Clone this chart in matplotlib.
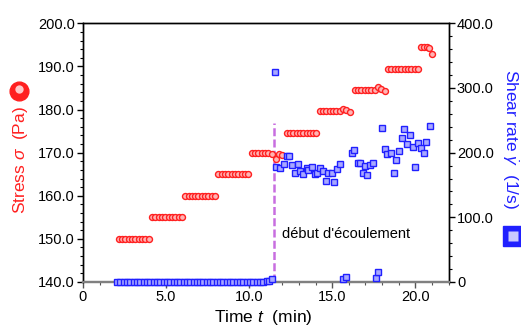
import matplotlib
matplotlib.use('Agg')
import matplotlib.pyplot as plt
from matplotlib.ticker import MultipleLocator, FuncFormatter

# Fonts
plt.rcParams['font.family'] = ['Liberation Sans', 'DejaVu Sans']
plt.rcParams['mathtext.fontset'] = 'custom'
plt.rcParams['mathtext.rm'] = 'Liberation Sans'
plt.rcParams['mathtext.it'] = 'Liberation Sans:italic'

# Stress (Pa) vs time (min)
stress_time = [
    2.15, 2.35, 2.55, 2.75, 2.95, 3.15, 3.35, 3.55, 3.75, 3.95,
    4.15, 4.35, 4.55, 4.75, 4.95, 5.15, 5.35, 5.55, 5.75, 5.95,
    6.15, 6.35, 6.55, 6.75, 6.95, 7.15, 7.35, 7.55, 7.75, 7.95,
    8.15, 8.35, 8.55, 8.75, 8.95, 9.15, 9.35, 9.55, 9.75, 9.95,
    10.15, 10.35, 10.55, 10.75, 10.95, 11.15, 11.35, 11.6, 11.8, 12.0,
    12.25, 12.45, 12.65, 12.85, 13.05, 13.25, 13.45, 13.65, 13.85, 14.05,
    14.25, 14.45, 14.65, 14.85, 15.05, 15.25, 15.45, 15.65, 15.85, 16.05,
    16.35, 16.55, 16.75, 16.95, 17.15, 17.35, 17.55, 17.75, 17.95, 18.15,
    18.35, 18.55, 18.75, 18.95, 19.15, 19.35, 19.55, 19.75, 19.95, 20.15,
    20.35, 20.55, 20.7, 20.85, 21.0,
]
stress = [
    150.0, 150.0, 150.0, 150.0, 150.0, 150.0, 150.0, 150.0, 150.0, 150.0,
    155.0, 155.0, 155.0, 155.0, 155.0, 155.0, 155.0, 155.0, 155.0, 155.0,
    160.0, 160.0, 160.0, 160.0, 160.0, 160.0, 160.0, 160.0, 160.0, 160.0,
    165.0, 165.0, 165.0, 165.0, 165.0, 165.0, 165.0, 165.0, 165.0, 165.0,
    170.0, 170.0, 170.0, 170.0, 170.0, 170.0, 169.8, 168.5, 169.7, 169.5,
    174.6, 174.6, 174.6, 174.6, 174.6, 174.6, 174.6, 174.6, 174.6, 174.6,
    179.6, 179.6, 179.6, 179.6, 179.6, 179.6, 179.6, 180.2, 179.8, 179.4,
    184.5, 184.5, 184.5, 184.5, 184.5, 184.5, 184.5, 185.2, 184.7, 184.4,
    189.4, 189.4, 189.4, 189.4, 189.4, 189.4, 189.4, 189.4, 189.4, 189.4,
    194.5, 194.6, 194.5, 194.3, 193.0,
]

# Shear rate (1/s) vs time (min)
shear_time = [
    2.05, 2.25, 2.45, 2.65, 2.85, 3.05, 3.25, 3.45, 3.65, 3.85,
    4.05, 4.25, 4.45, 4.65, 4.85, 5.05, 5.25, 5.45, 5.65, 5.85,
    6.05, 6.25, 6.45, 6.65, 6.85, 7.05, 7.25, 7.45, 7.65, 7.85,
    8.05, 8.25, 8.45, 8.65, 8.85, 9.05, 9.25, 9.45, 9.65, 9.85,
    10.05, 10.25, 10.45, 10.65, 10.85, 11.05, 11.2, 11.4,
    11.58, 11.64, 11.84, 12.08, 12.25, 12.42, 12.55, 12.75, 12.95, 13.05,
    13.25, 13.45, 13.55, 13.8, 13.96, 14.1, 14.26, 14.46, 14.62, 14.76,
    14.96, 15.12, 15.31, 15.47, 15.67, 15.8, 16.17, 16.33, 16.53, 16.68,
    16.82, 16.98, 17.12, 17.28, 17.48, 17.64, 17.76, 17.99, 18.15, 18.29,
    18.53, 18.69, 18.83, 19.0, 19.2, 19.34, 19.5, 19.66, 19.84, 20.0,
    20.14, 20.36, 20.5, 20.66, 20.86,
]
shear_rate = [
    0, 0, 0, 0, 0, 0, 0, 0, 0, 0,
    0, 0, 0, 0, 0, 0, 0, 0, 0, 0,
    0, 0, 0, 0, 0, 0, 0, 0, 0, 0,
    0, 0, 0, 0, 0, 0, 0, 0, 0, 0,
    0, 0, 0, 0, 0, 1, 2, 4,
    324, 178, 176, 183, 195, 195, 181, 169, 182, 171,
    167, 176, 173, 178, 167, 169, 177, 171, 156, 168,
    169, 155, 174, 182, 4, 8, 200, 204, 184, 184,
    169, 180, 165, 181, 184, 6, 15, 238, 205, 198,
    199, 169, 188, 202, 223, 236, 213, 227, 208, 178,
    215, 207, 199, 217, 241,
]

# Flow onset marker
onset_time = 11.5
onset_top = 176.8

RED = '#ff2020'
BLUE = '#2020ff'


def fmt(v, pos):
    return '0' if abs(v) < 1e-9 else '{:.1f}'.format(v)


def main():
    fig = plt.figure(figsize=(5.21, 3.29), dpi=100)
    ax = fig.add_axes([0.1593, 0.1429, 0.7017, 0.7862])
    ax2 = ax.twinx()

    # Stress steps
    ax.plot(stress_time, stress, 'o', ms=4.3, mfc='#ffb4b4', mec=RED, mew=1.0,
            ls='none', zorder=3)
    # Onset line
    ax.plot([onset_time, onset_time], [140, onset_top], color='#c86ee0', lw=1.8,
            dashes=(3.2, 1.3), zorder=2)
    ax.text(11.95, 151.1, "début d'écoulement", fontsize=10.5, va='center', ha='left')

    # Shear rate
    ax2.plot(shear_time, shear_rate, 's', ms=4.3, mfc='#a8a8ff', mec=BLUE, mew=1.0,
             ls='none', clip_on=False, zorder=3)

    ax.set_xlim(0, 22)
    ax.set_ylim(140, 200)
    ax2.set_ylim(0, 400)

    # Ticks
    ax.xaxis.set_major_locator(MultipleLocator(5))
    ax.xaxis.set_minor_locator(MultipleLocator(1))
    ax.yaxis.set_major_locator(MultipleLocator(10))
    ax.yaxis.set_minor_locator(MultipleLocator(2))
    ax2.yaxis.set_major_locator(MultipleLocator(100))
    ax2.yaxis.set_minor_locator(MultipleLocator(20))
    ax.xaxis.set_major_formatter(FuncFormatter(fmt))
    ax.yaxis.set_major_formatter(FuncFormatter(fmt))
    ax2.yaxis.set_major_formatter(FuncFormatter(fmt))

    for a in (ax, ax2):
        a.tick_params(which='major', length=4, width=1, labelsize=10.5, pad=2)
        a.tick_params(which='minor', length=2.2, width=0.8)
    ax.tick_params(axis='x', which='both', colors='#555555', labelcolor='black')
    ax.tick_params(top=False, right=False, which='both')
    ax2.tick_params(axis='y', which='both', right=True, left=False)

    for a in (ax, ax2):
        for side in ('left', 'right', 'top'):
            a.spines[side].set_color('black')
            a.spines[side].set_linewidth(1.0)
        a.spines['bottom'].set_color('#808080')
        a.spines['bottom'].set_linewidth(1.6)

    # Axis labels
    fig.text(0.505, 0.034, 'Time $t$  (min)', fontsize=12.5, ha='center', va='center')
    fig.text(0.040, 0.515, 'Stress $\\sigma$  (Pa)', fontsize=12.5, color=RED,
             rotation=90, ha='center', va='center')
    fig.text(0.979, 0.578, 'Shear rate $\\dot{\\gamma}$  (1/s)', fontsize=12.5,
             color=BLUE, rotation=270, ha='center', va='center')

    # Symbol keys next to the labels
    ax.plot([0.0374], [0.7234], 'o', ms=13.5, mfc=RED, mec=RED,
            transform=fig.transFigure, clip_on=False)
    ax.plot([0.0364], [0.7284], 'o', ms=6, mfc='#ffc8c8', mec='none',
            transform=fig.transFigure, clip_on=False)
    ax.plot([0.9845], [0.2827], 's', ms=14, mfc=BLUE, mec=BLUE,
            transform=fig.transFigure, clip_on=False)
    ax.plot([0.9845], [0.2827], 's', ms=7, mfc='#c8c8ff', mec='none',
            transform=fig.transFigure, clip_on=False)

    plt.savefig('out.png', dpi=100)


if __name__ == "__main__":
    main()
